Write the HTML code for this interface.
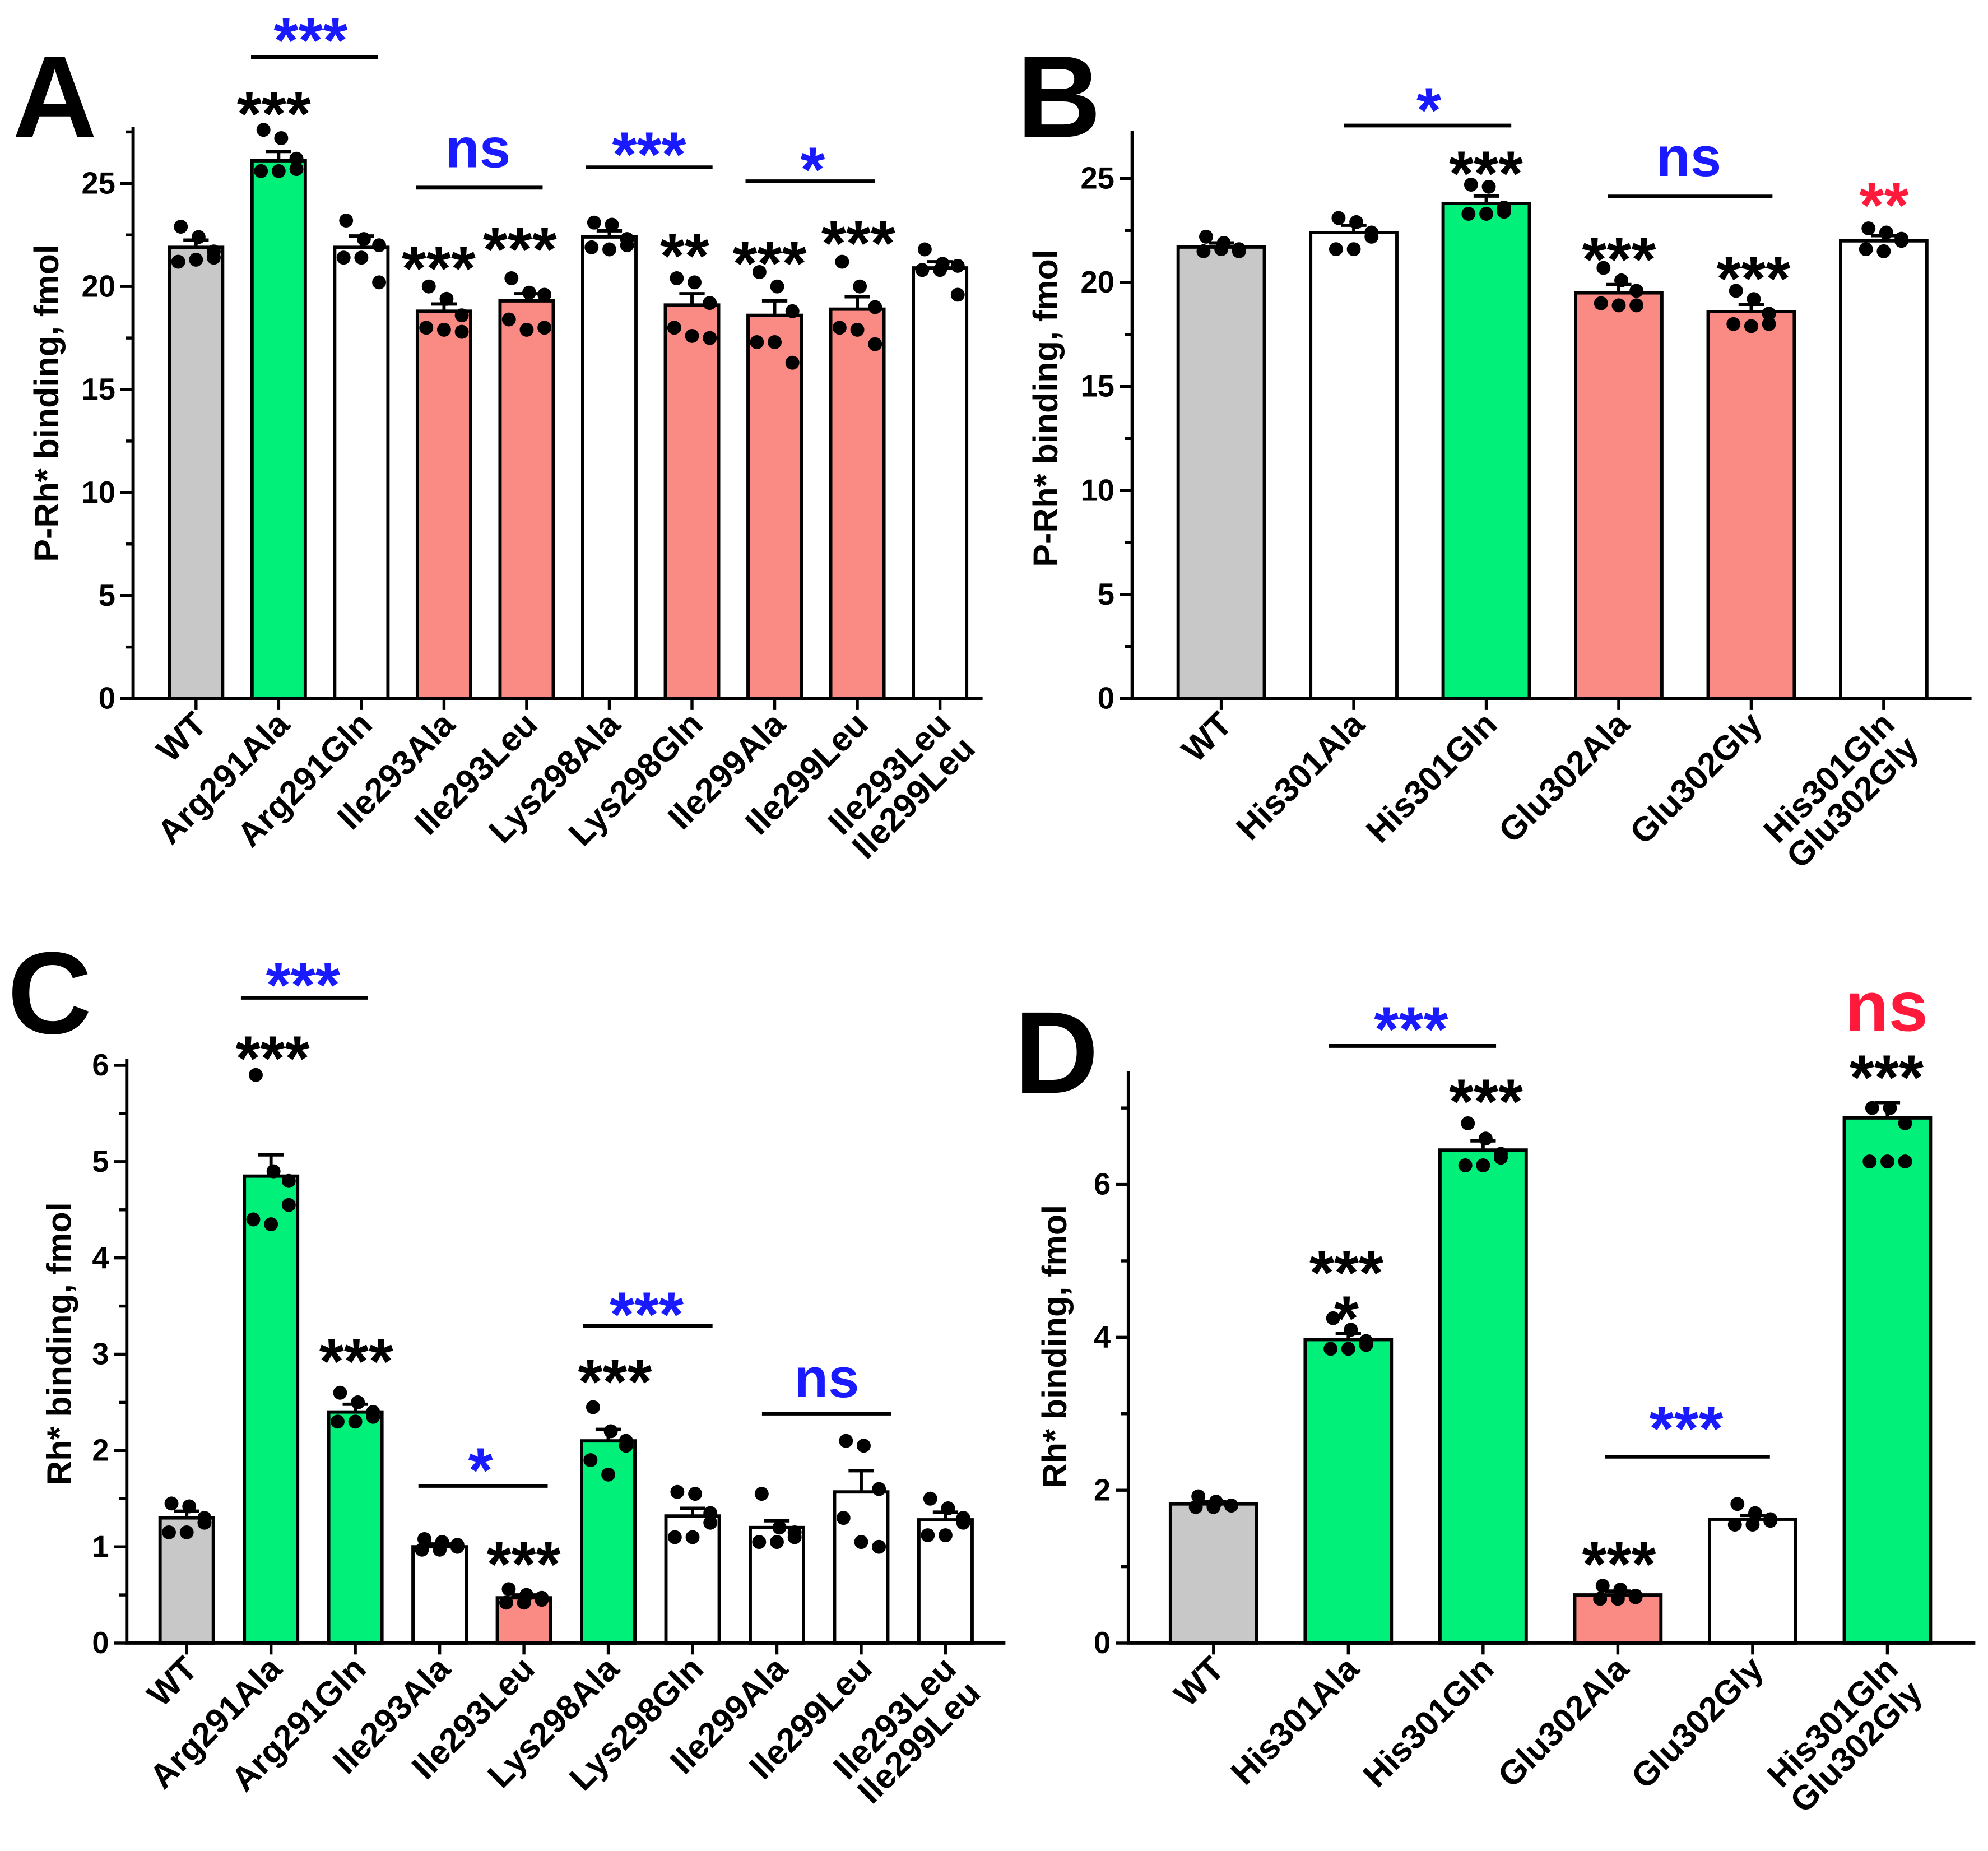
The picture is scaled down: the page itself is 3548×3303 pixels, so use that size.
<!DOCTYPE html>
<html><head><meta charset="utf-8"><style>
html,body{margin:0;padding:0;background:#fff}
svg{display:block}
text{font-family:"Liberation Sans",Arial,sans-serif;font-weight:bold}
</style></head><body>
<svg id="fig" width="3548" height="3303" viewBox="0 0 1568 1460" preserveAspectRatio="none" xmlns="http://www.w3.org/2000/svg"></svg>
<script>
// ---- Panel A data ----
const catsA = ["WT","Arg291Ala","Arg291Gln","Ile293Ala","Ile293Leu","Lys298Ala","Lys298Gln","Ile299Ala","Ile299Leu","Ile293Leu\nIle299Leu"];
const meansA = [21.9,26.1,21.9,18.8,19.3,22.4,19.1,18.6,18.9,20.9];
const semA = [0.35,0.45,0.55,0.35,0.35,0.3,0.55,0.7,0.6,0.3];
const colorsA = ["g","G","w","r","r","w","r","r","r","w"];
const dotsA = [[22.9,22.4,21.7,21.2,21.3,21.4],[27.6,27.2,26.2,25.6,25.6,25.7],[23.2,22.3,22.0,21.4,21.4,20.2],[20.0,19.4,18.6,18.0,17.9,17.8],[20.4,19.7,19.6,18.4,17.9,18.0],[23.1,23.0,22.3,21.9,21.8,22.0],[20.4,20.2,19.2,18.0,17.6,17.5],[20.7,20.0,18.8,17.3,17.3,16.3],[21.2,20.0,19.0,18.0,17.9,17.2],[21.8,21.1,21.0,20.8,20.8,19.6]];
// ---- Panel B data ----
const catsB = ["WT","His301Ala","His301Gln","Glu302Ala","Glu302Gly","His301Gln\nGlu302Gly"];
const meansB = [21.7,22.4,23.8,19.5,18.6,22.0];
const semB = [0.2,0.35,0.35,0.4,0.35,0.25];
const colorsB = ["g","w","G","r","r","w"];
const dotsB = [[22.2,21.9,21.6,21.5,21.6,21.5],[23.1,22.9,22.2,21.6,21.6,22.4],[24.7,24.6,23.6,23.3,23.3,23.4],[20.7,20.1,19.6,19.0,18.9,18.9],[19.6,19.2,18.5,18.0,17.9,18.0],[22.6,22.4,22.1,21.6,21.5,22.0]];
// ---- Panel C data ----
const catsC = catsA;
const meansC = [1.3,4.85,2.4,1.0,0.47,2.1,1.32,1.2,1.57,1.28];
const semC = [0.07,0.22,0.08,0.03,0.03,0.12,0.08,0.07,0.22,0.08];
const colorsC = ["g","G","G","w","r","G","w","w","w","w"];
const dotsC = [[1.45,1.42,1.3,1.15,1.15,1.25],[5.9,4.9,4.8,4.4,4.35,4.55],[2.6,2.5,2.4,2.3,2.3,2.35],[1.08,1.05,1.0,0.97,0.97,1.02],[0.56,0.5,0.47,0.42,0.42,0.45],[2.45,2.2,2.1,1.9,1.75,2.05],[1.57,1.55,1.35,1.1,1.1,1.25],[1.55,1.2,1.15,1.05,1.05,1.1],[2.1,2.05,1.6,1.3,1.05,1.0],[1.5,1.4,1.3,1.12,1.12,1.25]];
// ---- Panel D data ----
const catsD = catsB;
const meansD = [1.82,3.97,6.45,0.63,1.62,6.87];
const semD = [0.03,0.08,0.12,0.05,0.05,0.2];
const colorsD = ["g","G","G","r","w","G"];
const dotsD = [[1.92,1.85,1.8,1.78,1.78,1.8],[4.25,4.1,3.95,3.85,3.85,3.9],[6.8,6.6,6.4,6.25,6.25,6.35],[0.75,0.7,0.62,0.58,0.58,0.6],[1.82,1.7,1.62,1.55,1.55,1.6],[7.0,7.0,6.8,6.3,6.3,6.3]];

const NS = "http://www.w3.org/2000/svg";
const svg = document.getElementById('fig');
const FILL = {g:"#c8c8c8",G:"#00f07a",w:"#ffffff",r:"#fa8a84"};
function mk(tag, attrs, parent){const e=document.createElementNS(NS,tag);for(const k in attrs)e.setAttribute(k,attrs[k]);(parent||svg).appendChild(e);return e;}
function txt(s,x,y,size,color,parent,anchor){const t=mk('text',{x:x,y:y,'font-size':size,fill:color||'#000','text-anchor':anchor||'middle'},parent);t.textContent=s;return t;}

function panel(cfg){
  const g=mk('g',{});
  
  
  const ys=v=>cfg.y0-(v-0)*(cfg.y0-cfg.yTop)/(cfg.vTop);
  const xs=i=>cfg.x1+(i+0.5)*cfg.step;
  cfg.means.forEach((m,i)=>{
    const b=mk('rect',{x:xs(i)-cfg.bw/2,y:ys(m),width:cfg.bw,height:cfg.y0-ys(m),fill:FILL[cfg.colors[i]],stroke:'#000','stroke-width':2.6},g);
    
    
    const hi=ys(m+cfg.sem[i]);
    const eb=mk('path',{d:`M${xs(i)},${ys(m)}V${hi}M${xs(i)-10},${hi}H${xs(i)+10}`,stroke:'#000','stroke-width':2.6,fill:'none'},g);
    
    
    const offs=[-12,2,14,-14,0,14];
    cfg.dots[i].forEach((v,j)=>{
      const d=mk('circle',{cx:xs(i)+offs[j],cy:ys(v),r:5.5,fill:'#000'},g);
      
      
    });
  });
  const ax=mk('path',{d:`M${cfg.x0},${cfg.yTop}V${cfg.y0}H${cfg.x2}`,stroke:'#000','stroke-width':2.6,fill:'none'},g);
  
  
  for(let v=0;v<=cfg.vTop+1e-9;v+=cfg.minor){
    const major=Math.abs(v/cfg.major-Math.round(v/cfg.major))<1e-6;
    mk('line',{x1:cfg.x0-(major?10:6),x2:cfg.x0,y1:ys(v),y2:ys(v),stroke:'#000','stroke-width':2.4},g);
    if(major){const t=txt(String(Math.round(v)),cfg.x0-14,ys(v)+8,24,'#000',g,'end');
      }
  }
  cfg.cats.forEach((c,i)=>{
    mk('line',{x1:xs(i),x2:xs(i),y1:cfg.y0,y2:cfg.y0+9,stroke:'#000','stroke-width':2.4},g);
    const lines=c.split('\n');
    lines.forEach((ln,k)=>{
      const x=xs(i)+10+k*19, y=cfg.y0+22+k*19;
      const t=mk('text',{x:x,y:y,'font-size':27,'text-anchor':'end',transform:`rotate(-45 ${x} ${y})`},g);
      t.textContent=ln;
      
      
    });
  });
  const yl=mk('text',{x:cfg.ylx,y:cfg.yly,'font-size':27,'text-anchor':'middle',transform:`rotate(-90 ${cfg.ylx} ${cfg.yly})`},g);
  yl.textContent=cfg.ylabel;
  
  
  const L=txt(cfg.letter,cfg.lx,cfg.ly,92,'#000',g,'start');
  
  
  cfg.ann.forEach(a=>{
    if(a.line){const l=mk('line',{x1:a.line[0],x2:a.line[1],y1:a.line[2],y2:a.line[2],stroke:'#000','stroke-width':3},g);
      }
    const isAst=a.t.indexOf('*')>=0;
    const sz=a.s||(isAst?50:44);
    const t=txt(a.t,a.x,a.y+(isAst?0.58*sz:0.27*sz),sz,a.c||'#000',g);
    
    
  });
}
const B='#1a1aff', R='#ff1a3c';
panel({name:'panel-a',cats:catsA,means:meansA,sem:semA,colors:colorsA,dots:dotsA,x0:105,x1:122,x2:775,step:65.2,bw:42,y0:551,yTop:100,vTop:27.75,major:5,minor:2.5,
  ylabel:'P-Rh* binding, fmol',ylx:46,yly:318,letter:'A',lx:10,ly:108,
  ann:[{t:'***',x:245,y:20,c:B,line:[198,298,45]},{t:'***',x:216,y:78},
  {t:'ns',x:377,y:120,c:B,line:[328,428,148]},{t:'***',x:512,y:110,c:B,line:[462,562,132]},{t:'*',x:641,y:122,c:B,line:[588,690,143]},
  {t:'***',x:346,y:200},{t:'***',x:410,y:185},{t:'**',x:540,y:190},{t:'***',x:607,y:196},{t:'***',x:677,y:180}]});
panel({name:'panel-b',cats:catsB,means:meansB,sem:semB,colors:colorsB,dots:dotsB,x0:893,x1:911,x2:1555,step:104.5,bw:68,y0:551,yTop:103,vTop:27.3,major:5,minor:2.5,
  ylabel:'P-Rh* binding, fmol',ylx:834,yly:322,letter:'B',lx:802,ly:108,
  ann:[{t:'*',x:1127,y:75,c:B,line:[1060,1192,99]},{t:'***',x:1172,y:125},{t:'ns',x:1332,y:127,c:B,line:[1268,1398,155]},
  {t:'***',x:1277,y:193},{t:'***',x:1383,y:208},{t:'**',x:1486,y:150,c:R}]});
panel({name:'panel-c',cats:catsC,means:meansC,sem:semC,colors:colorsC,dots:dotsC,x0:100,x1:114,x2:793,step:66.5,bw:42,y0:1296,yTop:835,vTop:6.07,major:1,minor:0.5,
  ylabel:'Rh* binding, fmol',ylx:56,yly:1060,letter:'C',lx:6,ly:815,
  ann:[{t:'***',x:239,y:765,c:B,line:[190,290,787]},{t:'***',x:215,y:823},{t:'***',x:281,y:1062},
  {t:'*',x:379,y:1148,c:B,line:[330,432,1172]},{t:'***',x:413,y:1222},{t:'***',x:510,y:1025,c:B,line:[460,562,1046]},
  {t:'***',x:485,y:1078},{t:'ns',x:652,y:1090,c:B,line:[601,703,1115]}]});
panel({name:'panel-d',cats:catsD,means:meansD,sem:semD,colors:colorsD,dots:dotsD,x0:890,x1:904,x2:1558,step:106.3,bw:68,y0:1296,yTop:845,vTop:7.48,major:2,minor:1,
  ylabel:'Rh* binding, fmol',ylx:841,yly:1062,letter:'D',lx:800,ly:862,
  ann:[{t:'***',x:1113,y:800,c:B,line:[1048,1180,825]},{t:'***',x:1172,y:857},{t:'***',x:1062,y:992},{t:'*',x:1062,y:1028},
  {t:'ns',x:1488,y:798,c:R,s:56},{t:'***',x:1488,y:838},{t:'***',x:1330,y:1115,c:B,line:[1266,1396,1149]},{t:'***',x:1277,y:1222}]});
</script>
</body></html>
